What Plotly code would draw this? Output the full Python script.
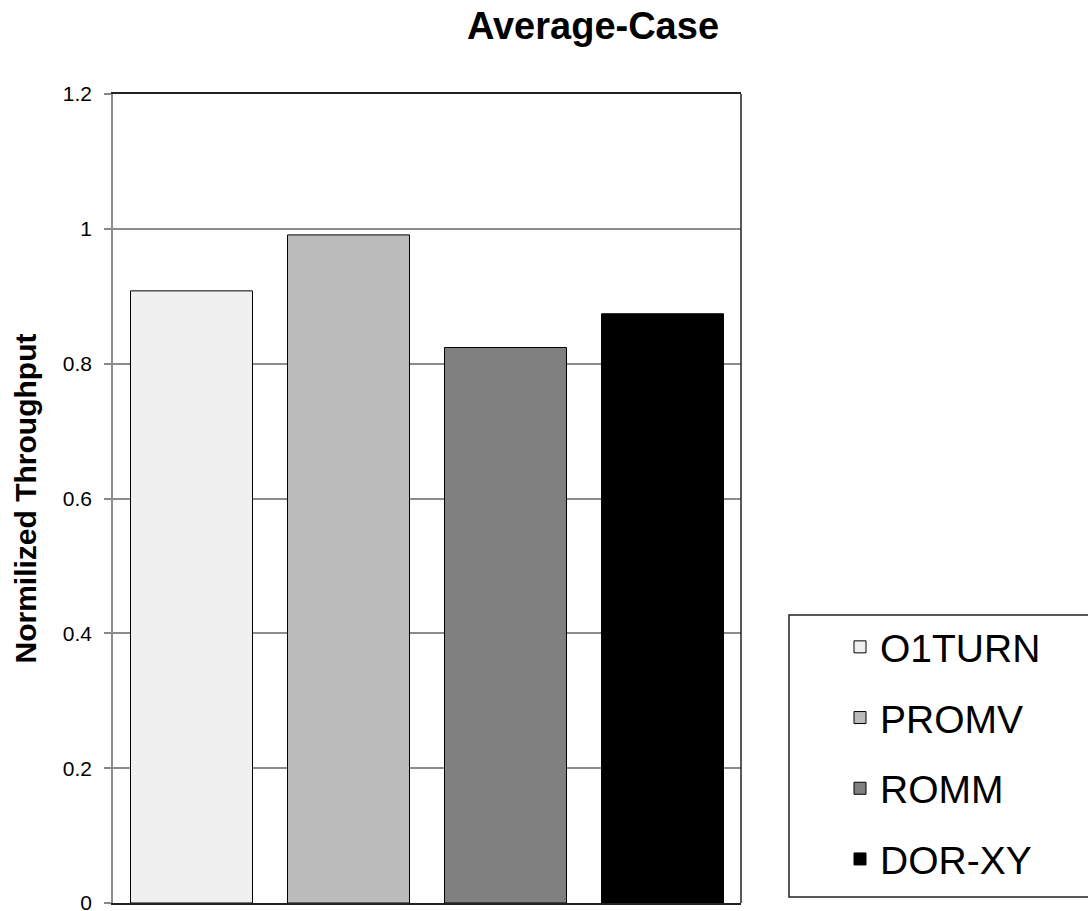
import plotly.graph_objects as go

# Normalized throughput of each routing algorithm (average-case traffic)
algorithms = ["O1TURN", "PROMV", "ROMM", "DOR-XY"]
throughput = [0.908, 0.991, 0.824, 0.874]
fills = ["#f0f0f0", "#bbbbbb", "#808080", "#000000"]

y_ticks = [0, 0.2, 0.4, 0.6, 0.8, 1.0, 1.2]
y_tick_text = ["0", "0.2", "0.4", "0.6", "0.8", "1", "1.2"]

W, H = 1088, 911
PLOT_L, PLOT_R, PLOT_T, PLOT_B = 113, 741, 94, 903
PLOT_W, PLOT_H = PLOT_R - PLOT_L, PLOT_B - PLOT_T


def px_to_paper_x(px):
    return (px - PLOT_L) / PLOT_W


def px_to_paper_y(py):
    return (PLOT_B - py) / PLOT_H


fig = go.Figure()
for name, val, col in zip(algorithms, throughput, fills):
    fig.add_trace(go.Bar(
        x=[name], y=[val], name=name,
        marker=dict(color=col, line=dict(color="#000000", width=1)),
        legendgroup=name,
    ))

fig.update_layout(
    width=W, height=H,
    margin=dict(l=PLOT_L, r=W - PLOT_R, t=PLOT_T, b=H - PLOT_B, pad=0,
                autoexpand=False),
    paper_bgcolor="white", plot_bgcolor="white",
    barmode="overlay", bargap=0.223,
    font=dict(family="Liberation Sans, Arial, sans-serif", color="#000000"),
    title=dict(text="<b>Average-Case</b>", font=dict(size=38),
               xref="container", x=593 / W, xanchor="center",
               yref="container", y=1 - 26 / H, yanchor="middle"),
    legend=dict(
        xref="container", yref="container",
        x=840 / W, xanchor="left", y=1 - 615 / H, yanchor="top",
        borderwidth=0, bgcolor="rgba(0,0,0,0)",
        font=dict(size=39), tracegroupgap=17,
        itemwidth=30,
    ),
    showlegend=True,
)

fig.update_xaxes(
    showticklabels=False, ticks="", showgrid=False, automargin=False,
    showline=True, linecolor="#222222", linewidth=1.5, mirror=True,
    zeroline=False,
)
fig.update_yaxes(
    range=[0, 1.2], tickvals=y_ticks, ticktext=y_tick_text,
    ticks="outside", ticklen=7, tickcolor="#888888", tickwidth=1.5,
    ticklabelstandoff=8, ticklabeloverflow="allow", automargin=False,
    tickfont=dict(size=21),
    showgrid=True, gridcolor="#8c8c8c", gridwidth=1.5,
    showline=True, linecolor="#8c8c8c", linewidth=1.5,
    zeroline=False,
    title=dict(text="<b>Normilized Throughput</b>", font=dict(size=30), standoff=17),
)

# right-hand border of the plotting area
fig.add_shape(type="line", xref="paper", yref="paper", x0=1, x1=1, y0=0, y1=1,
              line=dict(color="#222222", width=1.5))

# frame around the legend, running off the right edge of the page
fig.add_shape(type="rect", xref="paper", yref="paper",
              x0=px_to_paper_x(789), x1=px_to_paper_x(1100),
              y0=px_to_paper_y(897), y1=px_to_paper_y(615),
              line=dict(color="#222222", width=1.5), fillcolor="rgba(0,0,0,0)",
              layer="below")

fig.write_html("out.html")
